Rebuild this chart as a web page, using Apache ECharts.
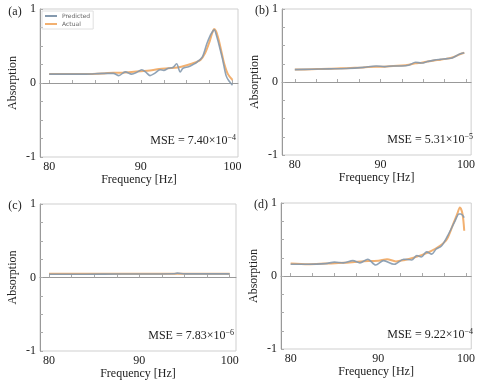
<!DOCTYPE html>
<html><head><meta charset="utf-8">
<script src="https://cdn.jsdelivr.net/npm/echarts@6/dist/echarts.min.js"></script>
<style>html,body{margin:0;padding:0;background:#fff}#c{width:478px;height:383px}</style>
</head><body><div id="c"></div>
<script>
// Panel (a)
const freqPredA = [80, 82, 84, 86, 87, 87.6, 88.3, 89.0, 89.5, 90.1, 90.6, 91.0, 91.5, 92.1, 92.5, 93.0, 93.5, 93.9, 94.3, 94.6, 95.2, 95.7, 96.1, 96.7, 97.2, 97.6, 97.8, 98.0, 98.3, 98.6, 98.9, 99.3, 99.6, 100];
const predA = [0.12, 0.12, 0.12, 0.13, 0.13, 0.10, 0.15, 0.12, 0.14, 0.18, 0.14, 0.10, 0.13, 0.18, 0.17, 0.20, 0.21, 0.26, 0.15, 0.20, 0.22, 0.25, 0.28, 0.35, 0.53, 0.65, 0.69, 0.72, 0.62, 0.48, 0.33, 0.10, 0.03, -0.03];
const freqActA = [80, 82, 84, 86, 87, 88, 89, 90, 91, 92, 93, 94, 95, 96, 96.5, 97, 97.5, 97.8, 98.0, 98.2, 98.5, 98.8, 99.1, 99.5, 100];
const actA = [0.12, 0.12, 0.12, 0.13, 0.14, 0.14, 0.15, 0.16, 0.17, 0.19, 0.20, 0.21, 0.24, 0.28, 0.31, 0.40, 0.56, 0.68, 0.73, 0.70, 0.58, 0.42, 0.26, 0.12, 0.04];
// Panel (b)
const freqB = [80, 82, 84, 86, 88, 89.5, 90.5, 91.5, 92.5, 93.3, 94.1, 94.8, 95.5, 96.3, 97, 97.8, 98.4, 99.2, 99.8];
const predB = [0.17, 0.175, 0.18, 0.185, 0.2, 0.22, 0.21, 0.22, 0.22, 0.23, 0.27, 0.26, 0.28, 0.3, 0.31, 0.32, 0.33, 0.38, 0.4];
const actB = [0.17, 0.175, 0.18, 0.19, 0.2, 0.21, 0.21, 0.22, 0.225, 0.235, 0.255, 0.265, 0.28, 0.295, 0.305, 0.32, 0.335, 0.375, 0.4];
// Panel (c)
const freqC = [80, 84, 88, 92, 93.8, 94.2, 95, 97, 100];
const predC = [0.045, 0.045, 0.047, 0.048, 0.05, 0.06, 0.05, 0.05, 0.05];
const actC = [0.05, 0.05, 0.05, 0.05, 0.05, 0.05, 0.05, 0.05, 0.05];
// Panel (d)
const freqPredD = [80, 82, 84, 85, 86, 87.1, 87.9, 88.8, 89.7, 90.6, 91.8, 92.9, 93.8, 94.4, 94.9, 95.5, 96.1, 96.6, 97.2, 97.9, 98.7, 99.2, 99.4, 99.8];
const predD = [0.16, 0.16, 0.17, 0.19, 0.18, 0.21, 0.18, 0.23, 0.15, 0.21, 0.16, 0.23, 0.22, 0.28, 0.26, 0.33, 0.30, 0.37, 0.41, 0.55, 0.74, 0.85, 0.85, 0.80];
const freqActD = [80, 82, 84, 86, 88, 90, 91, 92, 93, 94, 95, 96, 97, 97.8, 98.5, 99.0, 99.3, 99.6, 99.8];
const actD = [0.17, 0.16, 0.17, 0.18, 0.2, 0.21, 0.23, 0.2, 0.22, 0.25, 0.29, 0.34, 0.41, 0.5, 0.7, 0.85, 0.94, 0.85, 0.62];

const panelLabels = ['(a)', '(b)', '(c)', '(d)'];
const mseMantissa = ['7.40', '5.31', '7.83', '9.22'];
const mseExp = ['\u22124', '\u22125', '\u22126', '\u22124'];
const xTickValues = [80, 82.5, 85, 87.5, 90, 92.5, 95, 97.5, 100];
const xLabelValues = [80, 90, 100];
const yLabelValues = [-1, 0, 1];

const serif = 'Liberation Serif';
const zip = (xs, ys) => xs.map((x, i) => [x, ys[i]]);

const grids = [
  {left: 40, top: 9, width: 198, height: 148},
  {left: 282, top: 9, width: 193, height: 146},
  {left: 40, top: 204, width: 196, height: 147},
  {left: 281, top: 203, width: 194, height: 146}
];
const xMins = [79, 78.5, 79, 78.9];
const xMaxs = [100.6, 100.6, 100.7, 100.6];

const xAxes = grids.map((g, i) => ({
  type: 'value', gridIndex: i, min: xMins[i], max: xMaxs[i],
  name: 'Frequency [Hz]', nameLocation: 'middle', nameGap: 17,
  nameTextStyle: {fontFamily: serif, fontSize: 12, color: '#222'},
  axisLine: {lineStyle: {color: '#999'}},
  axisTick: {inside: true, length: 3, lineStyle: {color: '#aaa'}, customValues: xTickValues},
  axisLabel: {fontFamily: serif, fontSize: 12, color: '#222', margin: 4, customValues: xLabelValues},
  splitLine: {show: false}
}));
const yAxes = grids.map((g, i) => ({
  type: 'value', gridIndex: i, min: -1, max: 1, interval: 0.25,
  name: 'Absorption', nameLocation: 'middle', nameGap: 21, nameRotate: 90,
  nameTextStyle: {fontFamily: serif, fontSize: 12, color: '#222'},
  axisLine: {show: true, lineStyle: {color: '#999'}},
  axisTick: {inside: true, length: 3, lineStyle: {color: '#aaa'}},
  axisLabel: {fontFamily: serif, fontSize: 12, color: '#222', margin: 4,
    customValues: yLabelValues, formatter: v => (v === -1 ? '-1' : String(v))},
  splitLine: {show: false}
}));

const predColor = '#8499ae';
const actColor = '#f2b070';
const pairs = [
  [zip(freqPredA, predA), zip(freqActA, actA)],
  [zip(freqB, predB), zip(freqB, actB)],
  [zip(freqC, predC), zip(freqC, actC)],
  [zip(freqPredD, predD), zip(freqActD, actD)]
];
const series = [];
pairs.forEach((p, i) => {
  series.push({name: 'Actual', type: 'line', xAxisIndex: i, yAxisIndex: i, data: p[1], showSymbol: false, smooth: 0.3,
    lineStyle: {color: actColor, width: 2}, itemStyle: {color: actColor}, z: 2});
  series.push({name: 'Predicted', type: 'line', xAxisIndex: i, yAxisIndex: i, data: p[0], showSymbol: false, smooth: 0.3,
    lineStyle: {color: predColor, width: 1.6, opacity: 0.9}, itemStyle: {color: predColor}, z: 3});
});

const labelPos = [[15, 12], [262, 11], [15, 206], [261, 205]];
const msePos = [[236, 141], [473, 140], [234, 336], [473, 335]];
const graphic = [];
panelLabels.forEach((t, i) => {
  graphic.push({type: 'text', x: labelPos[i][0], y: labelPos[i][1],
    style: {text: t, fontFamily: serif, fontSize: 12, fill: '#222', align: 'center', verticalAlign: 'middle'}});
  graphic.push({type: 'text', x: msePos[i][0], y: msePos[i][1],
    style: {text: '{m|MSE = ' + mseMantissa[i] + '\u00d710}{s|' + mseExp[i] + '}',
      align: 'right', verticalAlign: 'middle',
      rich: {m: {fontFamily: serif, fontSize: 12, fill: '#222', lineHeight: 14},
             s: {fontFamily: serif, fontSize: 8, fill: '#222', padding: [0, 0, 7, 0]}}}});
});

const chart = echarts.init(document.getElementById('c'), null, {renderer: 'canvas'});
chart.setOption({
  animation: false,
  backgroundColor: '#fff',
  grid: grids.map(g => Object.assign({show: true, borderColor: '#cfcfcf', borderWidth: 1, backgroundColor: 'transparent'}, g)),
  xAxis: xAxes,
  yAxis: yAxes,
  legend: {data: ['Predicted', 'Actual'], orient: 'vertical', left: 42, top: 11, itemWidth: 12, itemHeight: 2,
    itemGap: 2, padding: [2, 3], borderColor: '#e0e0e0', borderWidth: 1, icon: 'rect',
    textStyle: {fontSize: 6, color: '#666', fontFamily: 'DejaVu Sans'}},
  series: series,
  graphic: graphic
});
</script></body></html>
